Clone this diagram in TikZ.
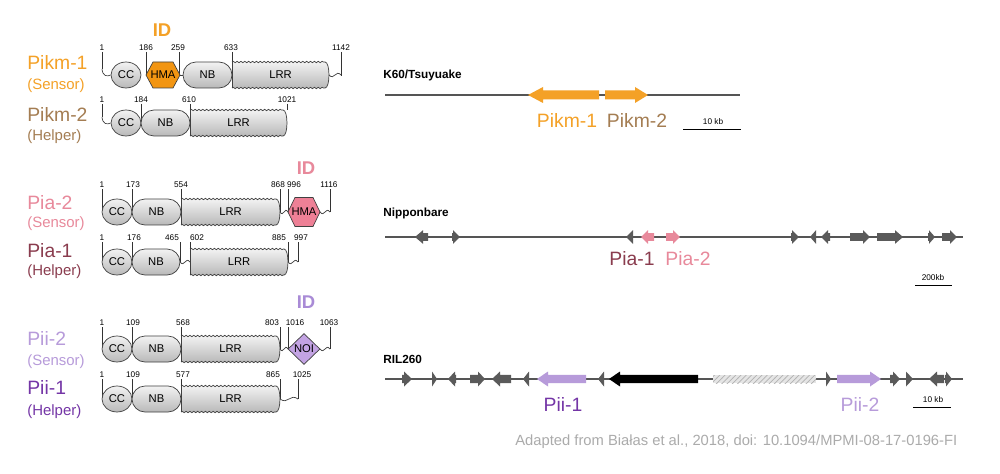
\documentclass[tikz,border=0pt]{standalone}
\usepackage{fontspec}
\setmainfont{Liberation Sans}
\usetikzlibrary{shapes.geometric,shapes.misc,decorations.pathmorphing,patterns}

\definecolor{pikmorange}{HTML}{F4A127}
\definecolor{hmaorange}{HTML}{F29512}
\definecolor{pikmbrown}{HTML}{A47D52}
\definecolor{piapink}{HTML}{E8899B}
\definecolor{hmapink}{HTML}{EE8096}
\definecolor{piamauve}{HTML}{8A3C4E}
\definecolor{piililac}{HTML}{B79BDA}
\definecolor{noililac}{HTML}{C3A3E3}
\definecolor{piipurple}{HTML}{7435A6}
\definecolor{idpurple}{HTML}{A98BD6}
\definecolor{genegray}{HTML}{5A5A5A}
\definecolor{chromgray}{HTML}{555555}
\definecolor{notegray}{HTML}{ABABAB}

\newcommand{\namefont}{\fontsize{11}{13}\selectfont}
\newcommand{\rolefont}{\fontsize{8.5}{10}\selectfont}
\newcommand{\idfont}{\fontsize{10.5}{12}\selectfont\bfseries}
\newcommand{\numfont}{\fontsize{4.7}{5}\selectfont}
\newcommand{\domfont}{\fontsize{6.4}{7}\selectfont}
\newcommand{\trackfont}{\fontsize{6.7}{8}\selectfont\bfseries}
\newcommand{\notefont}{\fontsize{8.4}{10}\selectfont}

\tikzset{
  namelbl/.style={anchor=west, font=\namefont, inner sep=0pt},
  rolelbl/.style={anchor=west, font=\rolefont, inner sep=0pt},
  idlbl/.style={font=\idfont, inner sep=0pt},
  numlbl/.style={font=\numfont, inner sep=0pt},
  domlbl/.style={font=\domfont, inner sep=0pt},
  tickln/.style={draw=black!80, line width=0.35pt},
  domln/.style={draw=black!75, line width=0.4pt},
  wavyln/.style={domln, decorate, decoration={snake, amplitude=0.4pt, segment length=2.2pt}},
  ccdom/.style={domln, top color=gray!10, bottom color=gray!55, ellipse,
    minimum width=0.6cm, minimum height=0.52cm, inner sep=0pt, font=\domfont},
  nbdom/.style={domln, top color=gray!10, bottom color=gray!55, rounded rectangle,
    minimum width=0.98cm, minimum height=0.52cm, inner sep=0pt, font=\domfont},
  noidom/.style={domln, fill=noililac, diamond, minimum width=0.64cm,
    minimum height=0.62cm, inner sep=0pt, font=\domfont},
  chrom/.style={draw=chromgray, line width=0.6pt},
  scalebar/.style={draw=black, line width=0.5pt},
  tracklbl/.style={anchor=west, font=\trackfont, inner sep=0pt},
  genelbl/.style={font=\namefont, inner sep=0pt},
  scalelbl/.style={font=\numfont, inner sep=0pt}
}

% residue number with its tick: tick x, label x, label y, tick end y, number
\newcommand{\resno}[5]{%
  \draw[tickln] (#1,{#3+4}) -- (#1,#4);
  \node[numlbl] (r#5at#3) at (#2,#3) {#5};}
% linker between two domains
\newcommand{\linker}[3]{%
  \draw[domln] (#1,#3) .. controls ({#1+0.45*(#2-#1)},{#3+6}) and ({#1+0.55*(#2-#1)},{#3-6}) .. (#2,#3);}
% HMA hexagon: x0, x1, y, half height, fill, name
\newcommand{\hma}[6]{%
  \filldraw[domln, fill=#5] (#1,#3) -- ({#1+7},{#3-#4}) -- ({#2-7},{#3-#4}) -- (#2,#3)
    -- ({#2-7},{#3+#4}) -- ({#1+7},{#3+#4}) -- cycle;
  \node[domlbl] (#6) at ({(#1+#2)/2},#3) {HMA};}
% LRR cylinder with wavy edges: x0, x1, y, name
\newcommand{\lrr}[4]{%
  \shade[top color=gray!10, bottom color=gray!55] (#1,{#3-13}) -- ({#2-4},{#3-13})
    .. controls ({#2+1.3},{#3-13}) and ({#2+1.3},{#3+13}) .. ({#2-4},{#3+13}) -- (#1,{#3+13}) -- cycle;
  \draw[wavyln] (#1,{#3-13}) -- ({#2-4},{#3-13});
  \draw[wavyln] (#1,{#3+13}) -- ({#2-4},{#3+13});
  \draw[domln] (#1,{#3-13}) -- (#1,{#3+13});
  \draw[domln] ({#2-4},{#3-13}) .. controls ({#2+1.3},{#3-13}) and ({#2+1.3},{#3+13}) .. ({#2-4},{#3+13});
  \node[domlbl] (#4) at ({(#1+#2)/2},#3) {LRR};}
% gene arrows: right (tail, tip, y, head, colour) and left (tip, tail, y, head, colour)
\newcommand{\rgene}[5]{%
  \fill[#5] (#1,{#3-\bodyh}) -- ({#2-#4},{#3-\bodyh}) -- ({#2-#4},{#3-\headh}) -- (#2,#3)
    -- ({#2-#4},{#3+\headh}) -- ({#2-#4},{#3+\bodyh}) -- (#1,{#3+\bodyh}) -- cycle;}
\newcommand{\lgene}[5]{%
  \fill[#5] (#2,{#3-\bodyh}) -- ({#1+#4},{#3-\bodyh}) -- ({#1+#4},{#3-\headh}) -- (#1,#3)
    -- ({#1+#4},{#3+\headh}) -- ({#1+#4},{#3+\bodyh}) -- (#2,{#3+\bodyh}) -- cycle;}

\begin{document}
\begin{tikzpicture}[x=0.02cm,y=-0.02cm]
  \fill[white] (0,0) rectangle (1000,473);
  \useasboundingbox (0,0) rectangle (1000,473);

  % Left labels
  \node[namelbl, text=pikmorange] (pikmOne) at (27,62) {Pikm-1};
  \node[rolelbl, text=pikmorange] (pikmOneRole) at (27,86) {(Sensor)};
  \node[namelbl, text=pikmbrown] (pikmTwo) at (27,114) {Pikm-2};
  \node[rolelbl, text=pikmbrown] (pikmTwoRole) at (27,137) {(Helper)};
  \node[namelbl, text=piapink] (piaTwo) at (27,203) {Pia-2};
  \node[rolelbl, text=piapink] (piaTwoRole) at (27,224) {(Sensor)};
  \node[namelbl, text=piamauve] (piaOne) at (27,251) {Pia-1};
  \node[rolelbl, text=piamauve] (piaOneRole) at (27,272) {(Helper)};
  \node[namelbl, text=piililac] (piiTwo) at (27,338) {Pii-2};
  \node[rolelbl, text=piililac] (piiTwoRole) at (27,362) {(Sensor)};
  \node[namelbl, text=piipurple] (piiOne) at (27,387) {Pii-1};
  \node[rolelbl, text=piipurple] (piiOneRole) at (27,412) {(Helper)};

  % ID labels
  \node[idlbl, text=pikmorange] (idPikm) at (162,30) {ID};
  \node[idlbl, text=piapink] (idPia) at (306,168) {ID};
  \node[idlbl, text=idpurple] (idPii) at (306,302) {ID};

  % Pikm-1
  \resno{102}{102}{48}{69}{1}
  \resno{146}{146}{48}{75}{186}
  \resno{179}{178}{48}{75}{259}
  \resno{232}{231}{48}{62}{633}
  \resno{341}{341}{48}{76}{1142}
  \node[ccdom] (ccPikmOne) at (126,75) {CC};
  \draw[tickln] (102,69) .. controls (102.5,76) and (107,77) .. (ccPikmOne.west);
  \hma{146}{180}{75}{13}{hmaorange}{hmaPikm}
  \node[nbdom] (nbPikmOne) at (207.5,75) {NB};
  \draw[domln] (180,75) -- (nbPikmOne.west);
  \lrr{232}{329}{75}{lrrPikmOne}
  \linker{329}{341}{75}

  % Pikm-2
  \resno{102}{102}{100}{117}{1}
  \resno{141}{141}{100}{123}{184}
  \resno{190}{189}{100}{123}{610}
  \resno{287}{287}{100}{110}{1021}
  \node[ccdom] (ccPikmTwo) at (126,123) {CC};
  \draw[tickln] (102,117) .. controls (102.5,124) and (107,125) .. (ccPikmTwo.west);
  \node[nbdom] (nbPikmTwo) at (165.5,123) {NB};
  \lrr{190}{287}{123}{lrrPikmTwo}

  % Pia-2
  \resno{102}{102}{185}{212}{1}
  \resno{132}{133}{185}{212}{173}
  \resno{181}{181}{185}{212}{554}
  \resno{280}{278}{185}{212}{868}
  \resno{288}{294}{185}{212}{996}
  \resno{330}{329}{185}{212}{1116}
  \node[ccdom] (ccPiaTwo) at (117,212) {CC};
  \node[nbdom] (nbPiaTwo) at (156.5,212) {NB};
  \lrr{181}{280}{212}{lrrPiaTwo}
  \linker{280}{288}{212}
  \hma{288}{320}{212}{14.5}{hmapink}{hmaPia}
  \linker{320}{330}{212}

  % Pia-1
  \resno{102}{102}{238}{262}{1}
  \resno{132}{134}{238}{262}{176}
  \resno{180}{172}{238}{262}{465}
  \resno{190}{197}{238}{262}{602}
  \resno{288}{279}{238}{262}{885}
  \resno{298}{301}{238}{262}{997}
  \node[ccdom] (ccPiaOne) at (117,262) {CC};
  \node[nbdom, minimum width=0.96cm] (nbPiaOne) at (156,262) {NB};
  \linker{180}{190}{262}
  \lrr{190}{288}{262}{lrrPiaOne}
  \linker{288}{298}{262}

  % Pii-2
  \resno{102}{102}{323}{349}{1}
  \resno{132}{133}{323}{349}{109}
  \resno{181}{183}{323}{349}{568}
  \resno{280}{272}{323}{349}{803}
  \resno{288}{295}{323}{349}{1016}
  \resno{330}{329}{323}{349}{1063}
  \node[ccdom] (ccPiiTwo) at (117,349) {CC};
  \node[nbdom] (nbPiiTwo) at (156.5,349) {NB};
  \lrr{181}{280}{349}{lrrPiiTwo}
  \linker{280}{288}{349}
  \node[noidom] (noiPii) at (304,349) {NOI};
  \linker{320}{330}{349}

  % Pii-1
  \resno{102}{102}{375}{399}{1}
  \resno{132}{133}{375}{399}{109}
  \resno{181}{183}{375}{399}{577}
  \resno{280}{273}{375}{399}{865}
  \resno{298}{302}{375}{399}{1025}
  \node[ccdom] (ccPiiOne) at (117,399) {CC};
  \node[nbdom] (nbPiiOne) at (156.5,399) {NB};
  \lrr{181}{280}{399}{lrrPiiOne}
  \linker{280}{298}{399}

  % K60/Tsuyuake
  \node[tracklbl] (kTitle) at (383,75) {K60/Tsuyuake};
  \coordinate (kL) at (385,95);
  \coordinate (kR) at (740,95);
  \draw[chrom] (kL) -- (kR);
  \def\bodyh{4.5}\def\headh{8}
  \lgene{528}{599}{95}{15}{pikmorange}
  \rgene{605}{648}{95}{13}{pikmorange}
  \node[genelbl, text=pikmorange] (kPikmOne) at (567,120) {Pikm-1};
  \node[genelbl, text=pikmbrown] (kPikmTwo) at (637,120) {Pikm-2};
  \coordinate (kBarL) at (683,129);
  \coordinate (kBarR) at (741,129);
  \draw[scalebar] (kBarL) -- (kBarR);
  \node[scalelbl] (kBarLbl) at (713,122) {10 kb};

  % Nipponbare
  \node[tracklbl] (nTitle) at (383,213) {Nipponbare};
  \coordinate (nL) at (385,237);
  \coordinate (nR) at (963,237);
  \draw[chrom] (nL) -- (nR);
  \def\bodyh{3.8}\def\headh{6.8}
  \lgene{415}{428}{237}{8}{genegray}
  \rgene{452}{460}{237}{7}{genegray}
  \lgene{626}{633}{237}{7}{genegray}
  \lgene{641}{654}{237}{7}{piapink}
  \rgene{666}{680}{237}{7}{piapink}
  \rgene{791}{799}{237}{7}{genegray}
  \lgene{810}{816}{237}{6}{genegray}
  \lgene{821}{830}{237}{7}{genegray}
  \rgene{850}{870}{237}{7}{genegray}
  \rgene{877}{903}{237}{8}{genegray}
  \rgene{928}{935}{237}{6}{genegray}
  \rgene{942}{957}{237}{7}{genegray}
  \node[genelbl, text=piamauve] (nPiaOne) at (632,259) {Pia-1};
  \node[genelbl, text=piapink] (nPiaTwo) at (688,259) {Pia-2};
  \coordinate (nBarL) at (915,285);
  \coordinate (nBarR) at (952,285);
  \draw[scalebar] (nBarL) -- (nBarR);
  \node[scalelbl] (nBarLbl) at (933,278) {200kb};

  % RIL260
  \node[tracklbl] (rTitle) at (383,359) {RIL260};
  \coordinate (rL) at (385,379);
  \coordinate (rR) at (963,379);
  \draw[chrom] (rL) -- (rR);
  \def\bodyh{4.2}\def\headh{7.5}
  \rgene{402}{412}{379}{8}{genegray}
  \rgene{432}{437}{379}{5}{genegray}
  \lgene{448}{456}{379}{7}{genegray}
  \rgene{470}{485}{379}{7}{genegray}
  \lgene{492}{511}{379}{8}{genegray}
  \lgene{523}{529}{379}{6}{genegray}
  \lgene{537}{586}{379}{11}{piililac}
  \lgene{598}{604}{379}{6}{genegray}
  \lgene{609}{698}{379}{11}{black}
  \fill[gray!20] (713,375) rectangle (816,383);
  \fill[pattern=north east lines, pattern color=gray!60] (713,375) rectangle (816,383);
  \rgene{826}{831}{379}{5}{genegray}
  \rgene{837}{881}{379}{11}{piililac}
  \rgene{890}{900}{379}{7}{genegray}
  \rgene{906}{913}{379}{7}{genegray}
  \lgene{929}{944}{379}{8}{genegray}
  \rgene{945}{952}{379}{6}{genegray}
  \node[genelbl, text=piipurple] (rPiiOne) at (563,404) {Pii-1};
  \node[genelbl, text=piililac] (rPiiTwo) at (860,404) {Pii-2};
  \coordinate (rBarL) at (913,407);
  \coordinate (rBarR) at (951,407);
  \draw[scalebar] (rBarL) -- (rBarR);
  \node[scalelbl] (rBarLbl) at (933,400) {10 kb};

  % Source note
  \node[anchor=west, font=\notefont, text=notegray, inner sep=0pt] (srcNote) at (515,442)
    {Adapted from Białas et al., 2018, doi: 10.1094/MPMI-08-17-0196-FI};
\end{tikzpicture}
\end{document}
